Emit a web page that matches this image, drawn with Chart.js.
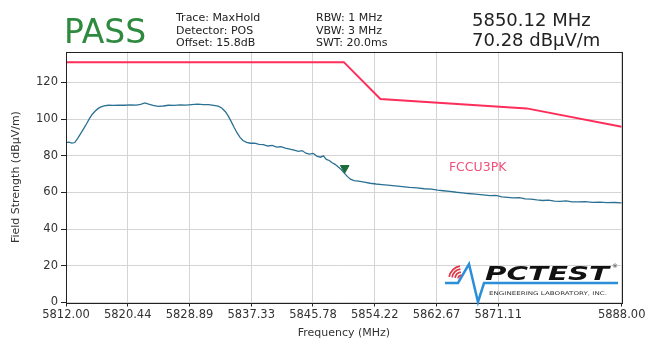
<!DOCTYPE html>
<html><head><meta charset="utf-8">
<script src="https://cdn.jsdelivr.net/npm/chart.js@4"></script>
<style>html,body{margin:0;padding:0;background:#fff;}#wrap{position:relative;width:649px;height:344px;}</style>
</head><body><div id="wrap"><canvas id="c" width="649" height="344" style="width:649px;height:344px"></canvas></div>
<script>
const traceFreq=[5812.0,5812.4,5812.8,5813.2,5813.6,5814.0,5814.4,5814.8,5815.2,5815.6,5816.0,5816.4,5816.8,5817.2,5817.8,5818.5,5819.2,5820.0,5820.8,5821.6,5822.2,5822.8,5823.3,5823.9,5824.6,5825.3,5826.0,5826.8,5827.6,5828.4,5829.2,5830.0,5830.8,5831.5,5832.2,5832.8,5833.3,5833.8,5834.2,5834.6,5835.0,5835.4,5835.8,5836.2,5836.7,5837.2,5837.8,5838.4,5839.0,5839.6,5840.2,5840.8,5841.4,5842.0,5842.6,5843.2,5843.8,5844.3,5844.8,5845.3,5845.8,5846.3,5846.8,5847.2,5847.6,5848.0,5848.4,5848.8,5849.2,5849.6,5850.12,5850.5,5850.9,5851.4,5852.0,5852.8,5853.6,5854.4,5855.2,5856.0,5857.0,5858.0,5859.0,5860.0,5861.0,5862.0,5862.8,5863.6,5864.5,5865.4,5866.2,5867.0,5868.0,5869.0,5870.0,5870.8,5871.6,5872.4,5873.2,5874.0,5874.8,5875.6,5876.4,5877.2,5878.0,5878.8,5879.6,5880.4,5881.2,5882.0,5883.0,5884.0,5885.0,5886.0,5887.0,5888.0];
const traceLevel=[87.1,87.4,86.9,87.2,89.5,92.0,94.6,97.3,100.2,102.6,104.4,105.8,106.6,107.2,107.5,107.4,107.6,107.5,107.7,107.6,108.0,108.8,108.1,107.4,106.9,107.1,107.5,107.4,107.7,107.6,107.9,108.1,107.8,107.9,107.5,107.0,106.0,104.0,101.6,98.6,95.4,92.4,90.0,88.3,87.3,86.8,86.9,86.2,86.0,85.3,85.6,84.7,84.9,84.1,83.6,83.0,82.4,82.8,81.4,80.9,81.3,79.8,79.2,79.9,78.0,77.4,76.2,75.3,74.0,72.6,70.28,68.6,67.2,66.4,66.1,65.6,65.0,64.6,64.3,64.0,63.6,63.2,62.8,62.5,62.0,61.8,61.2,60.9,60.6,60.1,59.8,59.4,59.1,58.7,58.2,58.4,57.6,57.3,57.0,57.2,56.5,56.3,55.9,55.6,55.8,55.3,55.1,55.4,54.9,54.8,55.0,54.6,54.7,54.4,54.5,54.3];
const limitFreq=[5812,5850,5855,5875,5888];
const limitLevel=[131,131,110.9,105.8,95.8];
const xTicks=[5812.00,5820.44,5828.89,5837.33,5845.78,5854.22,5862.67,5871.11,5888.00];
const yTicks=[0,20,40,60,80,100,120];
const xRange=[5812,5888];
const yRange=[0,136.7];
const markerFreq=5850.12;
const markerLevel=70.28;
const markerOffset=3;
const limitName="FCCU3PK";
const limitLabelAt=[5868.3,73.3];
const headerLeft=["Trace: MaxHold","Detector: POS","Offset: 15.8dB"];
const headerMid=["RBW: 1 MHz","VBW: 3 MHz","SWT: 20.0ms"];
const headerRight=["5850.12 MHz","70.28 dBµV/m"];
const verdict="PASS";

const FONT='"DejaVu Sans", sans-serif';

const framePlugin={id:'frame',
  afterDatasetsDraw(chart){
    const {ctx,chartArea:a,scales}=chart;
    ctx.save();
    ctx.strokeStyle='#222';ctx.lineWidth=1;
    ctx.strokeRect(Math.round(a.left)+0.5,Math.round(a.top)+0.5,Math.round(a.right-a.left),Math.round(a.bottom-a.top));
    ctx.fillStyle='#f0507a';ctx.font='12.5px '+FONT;ctx.textAlign='center';ctx.textBaseline='middle';
    ctx.fillText(limitName,scales.x.getPixelForValue(limitLabelAt[0]),scales.y.getPixelForValue(limitLabelAt[1]));
    ctx.restore();
  },
  afterDraw(chart){
    const ctx=chart.ctx;
    ctx.save();
    ctx.textBaseline='alphabetic';ctx.textAlign='left';
    ctx.fillStyle='#2d8a3e';ctx.font='33px '+FONT;
    ctx.fillText(verdict,64,43);
    ctx.fillStyle='#222';ctx.font='11px '+FONT;
    headerLeft.forEach((t,i)=>ctx.fillText(t,176,21+i*12.5));
    headerMid.forEach((t,i)=>ctx.fillText(t,316,21+i*12.5));
    ctx.font='18px '+FONT;
    headerRight.forEach((t,i)=>ctx.fillText(t,472,26+i*20));
    // logo
    ctx.lineWidth=2.5;ctx.strokeStyle='#2a8fd8';
    ctx.beginPath();ctx.moveTo(445,283);ctx.lineTo(458,283);ctx.lineTo(469,264);ctx.lineTo(478,302);ctx.lineTo(484,283);ctx.lineTo(618,283);ctx.stroke();
    ctx.strokeStyle='#e03a4a';ctx.lineWidth=1.8;
    for(let r=4;r<=13;r+=3){ctx.beginPath();ctx.arc(462,279,r,Math.PI*1.05,Math.PI*1.45);ctx.stroke();}
    ctx.fillStyle='#111';ctx.font='italic bold 19px '+FONT;
    const w=ctx.measureText('PCTEST').width;
    ctx.save();ctx.translate(485,280);ctx.scale(124/w,1);ctx.fillText('PCTEST',0,0);ctx.restore();
    ctx.font='5px '+FONT;ctx.fillStyle='#333';
    const s='ENGINEERING LABORATORY, INC.';const w2=ctx.measureText(s).width;
    ctx.save();ctx.translate(489,295);ctx.scale(118/w2,1);ctx.fillText(s,0,0);ctx.restore();
    ctx.font='6px '+FONT;ctx.fillText('®',612,268);
    ctx.restore();
  }
};

new Chart(document.getElementById('c'),{
  type:'line',
  data:{datasets:[
    {data:[{x:markerFreq,y:markerLevel+markerOffset}],showLine:false,pointStyle:'triangle',rotation:180,pointRadius:5,backgroundColor:'#1b6b3a',borderColor:'#1b6b3a',order:0},
    {data:traceFreq.map((f,i)=>({x:f,y:traceLevel[i]})),borderColor:'#2b7193',borderWidth:1.3,pointRadius:0,tension:0,order:1},
    {data:limitFreq.map((f,i)=>({x:f,y:limitLevel[i]})),borderColor:'#ff2d5a',borderWidth:2,pointRadius:0,tension:0,order:2}
  ]},
  options:{
    responsive:false,animation:false,maintainAspectRatio:false,
    layout:{padding:{top:51.7,right:27.3,left:0,bottom:0}},
    plugins:{legend:{display:false},tooltip:{enabled:false}},
    scales:{
      x:{type:'linear',min:xRange[0],max:xRange[1],
        afterBuildTicks(s){s.ticks=xTicks.map(v=>({value:v}));},
        afterFit(s){s.height=41.5;},
        grid:{color:'#d4d4d4',tickColor:'#222',tickLength:4,drawTicks:true},
        border:{display:false},
        ticks:{autoSkip:false,maxRotation:0,padding:2,color:'#333',font:{family:FONT,size:11.5},callback:v=>Number(v).toFixed(2)},
        title:{display:true,text:'Frequency (MHz)',color:'#333',font:{family:FONT,size:11},padding:{bottom:4.4,top:0}}
      },
      y:{min:yRange[0],max:yRange[1],
        afterBuildTicks(s){s.ticks=yTicks.map(v=>({value:v}));},
        afterFit(s){s.width=66;},
        grid:{color:'#d4d4d4',tickColor:'#222',tickLength:5},
        border:{display:false},
        ticks:{padding:3,color:'#333',font:{family:FONT,size:11.5}},
        title:{display:true,text:'Field Strength (dBµV/m)',color:'#333',font:{family:FONT,size:11},padding:{top:10}}
      }
    }
  },
  plugins:[framePlugin]
});
</script></body></html>
